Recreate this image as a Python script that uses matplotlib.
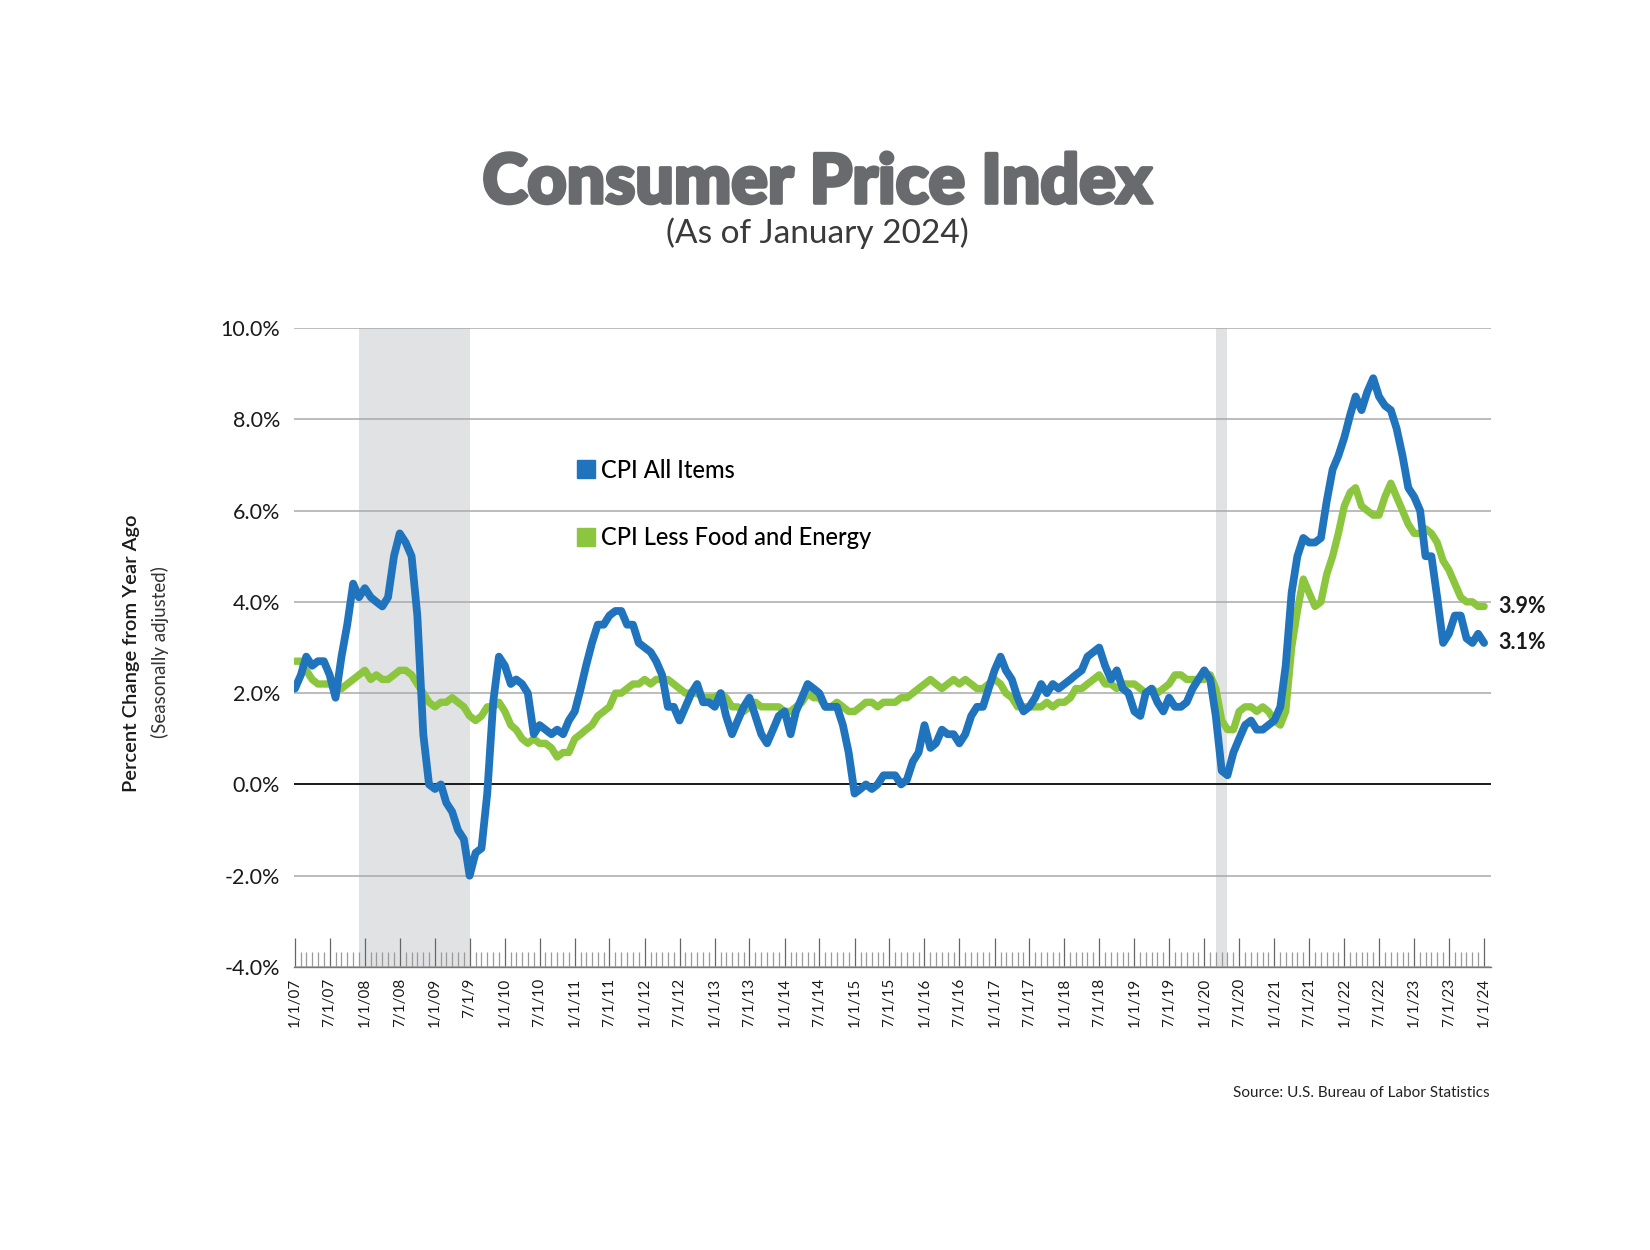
import matplotlib
matplotlib.use("Agg")
import matplotlib.pyplot as plt
from matplotlib.lines import Line2D
import matplotlib.patheffects as pe
import pandas as pd

# ---------------- data ----------------
start_month = "2007-01-01"
end_month = "2024-01-01"

cpi_all_items = [
    2.1, 2.4, 2.8, 2.6, 2.7, 2.7, 2.4, 1.9, 2.8, 3.5, 4.4, 4.1,    # 2007
    4.3, 4.1, 4.0, 3.9, 4.1, 5.0, 5.5, 5.3, 5.0, 3.7, 1.1, 0.0,    # 2008
    -0.1, 0.0, -0.4, -0.6, -1.0, -1.2, -2.0, -1.5, -1.4, -0.2, 1.8, 2.8,  # 2009
    2.6, 2.2, 2.3, 2.2, 2.0, 1.1, 1.3, 1.2, 1.1, 1.2, 1.1, 1.4,    # 2010
    1.6, 2.1, 2.6, 3.1, 3.5, 3.5, 3.7, 3.8, 3.8, 3.5, 3.5, 3.1,    # 2011
    3.0, 2.9, 2.7, 2.4, 1.7, 1.7, 1.4, 1.7, 2.0, 2.2, 1.8, 1.8,    # 2012
    1.7, 2.0, 1.5, 1.1, 1.4, 1.7, 1.9, 1.5, 1.1, 0.9, 1.2, 1.5,    # 2013
    1.6, 1.1, 1.6, 1.9, 2.2, 2.1, 2.0, 1.7, 1.7, 1.7, 1.3, 0.7,    # 2014
    -0.2, -0.1, 0.0, -0.1, 0.0, 0.2, 0.2, 0.2, 0.0, 0.1, 0.5, 0.7,  # 2015
    1.3, 0.8, 0.9, 1.2, 1.1, 1.1, 0.9, 1.1, 1.5, 1.7, 1.7, 2.1,    # 2016
    2.5, 2.8, 2.5, 2.3, 1.9, 1.6, 1.7, 1.9, 2.2, 2.0, 2.2, 2.1,    # 2017
    2.2, 2.3, 2.4, 2.5, 2.8, 2.9, 3.0, 2.6, 2.3, 2.5, 2.1, 2.0,    # 2018
    1.6, 1.5, 2.0, 2.1, 1.8, 1.6, 1.9, 1.7, 1.7, 1.8, 2.1, 2.3,    # 2019
    2.5, 2.3, 1.5, 0.3, 0.2, 0.7, 1.0, 1.3, 1.4, 1.2, 1.2, 1.3,    # 2020
    1.4, 1.7, 2.6, 4.2, 5.0, 5.4, 5.3, 5.3, 5.4, 6.2, 6.9, 7.2,    # 2021
    7.6, 8.1, 8.5, 8.2, 8.6, 8.9, 8.5, 8.3, 8.2, 7.8, 7.2, 6.5,    # 2022
    6.3, 6.0, 5.0, 5.0, 4.1, 3.1, 3.3, 3.7, 3.7, 3.2, 3.1, 3.3,    # 2023
    3.1,                                                          # 2024
]

cpi_core = [
    2.7, 2.7, 2.5, 2.3, 2.2, 2.2, 2.2, 2.1, 2.1, 2.2, 2.3, 2.4,    # 2007
    2.5, 2.3, 2.4, 2.3, 2.3, 2.4, 2.5, 2.5, 2.4, 2.2, 2.0, 1.8,    # 2008
    1.7, 1.8, 1.8, 1.9, 1.8, 1.7, 1.5, 1.4, 1.5, 1.7, 1.7, 1.8,    # 2009
    1.6, 1.3, 1.2, 1.0, 0.9, 1.0, 0.9, 0.9, 0.8, 0.6, 0.7, 0.7,    # 2010
    1.0, 1.1, 1.2, 1.3, 1.5, 1.6, 1.7, 2.0, 2.0, 2.1, 2.2, 2.2,    # 2011
    2.3, 2.2, 2.3, 2.3, 2.3, 2.2, 2.1, 2.0, 2.0, 2.0, 1.9, 1.9,    # 2012
    1.9, 2.0, 1.9, 1.7, 1.7, 1.6, 1.7, 1.8, 1.7, 1.7, 1.7, 1.7,    # 2013
    1.6, 1.6, 1.7, 1.8, 2.0, 1.9, 1.9, 1.7, 1.7, 1.8, 1.7, 1.6,    # 2014
    1.6, 1.7, 1.8, 1.8, 1.7, 1.8, 1.8, 1.8, 1.9, 1.9, 2.0, 2.1,    # 2015
    2.2, 2.3, 2.2, 2.1, 2.2, 2.3, 2.2, 2.3, 2.2, 2.1, 2.1, 2.2,    # 2016
    2.3, 2.2, 2.0, 1.9, 1.7, 1.7, 1.7, 1.7, 1.7, 1.8, 1.7, 1.8,    # 2017
    1.8, 1.9, 2.1, 2.1, 2.2, 2.3, 2.4, 2.2, 2.2, 2.1, 2.2, 2.2,    # 2018
    2.2, 2.1, 2.0, 2.1, 2.0, 2.1, 2.2, 2.4, 2.4, 2.3, 2.3, 2.3,    # 2019
    2.3, 2.4, 2.1, 1.4, 1.2, 1.2, 1.6, 1.7, 1.7, 1.6, 1.7, 1.6,    # 2020
    1.4, 1.3, 1.6, 3.0, 3.8, 4.5, 4.2, 3.9, 4.0, 4.6, 5.0, 5.5,    # 2021
    6.1, 6.4, 6.5, 6.1, 6.0, 5.9, 5.9, 6.3, 6.6, 6.3, 6.0, 5.7,    # 2022
    5.5, 5.5, 5.6, 5.5, 5.3, 4.9, 4.7, 4.4, 4.1, 4.0, 4.0, 3.9,    # 2023
    3.9,                                                          # 2024
]

series_labels = ["CPI All Items", "CPI Less Food and Energy"]

recessions = [("2007-12-01", "2009-07-01"), ("2020-03-01", "2020-05-01")]

x_tick_labels = [
    "1/1/07", "7/1/07", "1/1/08", "7/1/08", "1/1/09", "7/1/9", "1/1/10", "7/1/10",
    "1/1/11", "7/1/11", "1/1/12", "7/1/12", "1/1/13", "7/1/13", "1/1/14", "7/1/14",
    "1/1/15", "7/1/15", "1/1/16", "7/1/16", "1/1/17", "7/1/17", "1/1/18", "7/1/18",
    "1/1/19", "7/1/19", "1/1/20", "7/1/20", "1/1/21", "7/1/21", "1/1/22", "7/1/22",
    "1/1/23", "7/1/23", "1/1/24",
]

y_ticks = [-4, -2, 0, 2, 4, 6, 8, 10]

# ---------------- style ----------------
BLUE = "#1f74bd"
GREEN = "#8cc63f"
SHADE = "#e1e2e4"
FONT = ["Lato", "DejaVu Sans"]
plt.rcParams["font.family"] = FONT

dates = pd.date_range(start_month, end_month, freq="MS")
major_dates = pd.date_range(start_month, end_month, freq="6MS")

W, H = 1650, 1250
fig = plt.figure(figsize=(W / 100, H / 100), dpi=100)
ax = fig.add_axes([294 / W, 1 - 967 / H, (1491 - 294) / W, (967 - 328) / H])

for a, b in recessions:
    ax.axvspan(pd.Timestamp(a), pd.Timestamp(b), color=SHADE, zorder=0.2, lw=0)

ax.set_axisbelow(True)
ax.grid(axis="y", color="#a9a9a9", lw=1.1)
ax.axhline(0, color="black", lw=1.2, zorder=1)

ax.plot(dates, cpi_core, color=GREEN, lw=5.3, solid_capstyle="round",
        solid_joinstyle="round", zorder=3)
ax.plot(dates, cpi_all_items, color=BLUE, lw=5.6, solid_capstyle="round",
        solid_joinstyle="round", zorder=4)

ax.set_ylim(-4, 10)
ax.set_xlim(pd.Timestamp("2006-12-27"), pd.Timestamp("2024-02-06"))

ax.set_yticks(y_ticks)
ax.set_yticklabels([f"{v:.1f}%" for v in y_ticks])
ax.tick_params(axis="y", length=0, pad=10, labelsize=15.5, labelcolor="#1a1a1a")

ax.set_xticks(major_dates)
ax.set_xticklabels(x_tick_labels, rotation=90, ha="center", va="top")
ax.set_xticks(dates, minor=True)
ax.tick_params(axis="x", which="major", direction="in", length=21, width=0.9,
               color="#666666", pad=8, labelsize=11, labelcolor="#1a1a1a")
ax.tick_params(axis="x", which="minor", direction="in", length=11, width=0.9,
               color="#9a9a9a")

for s in ["top", "left", "right"]:
    ax.spines[s].set_visible(False)
ax.spines["bottom"].set_color("#777777")
ax.spines["bottom"].set_linewidth(1.0)

# legend
handles = [Line2D([], [], marker="s", ls="none", color=BLUE, markersize=12.5),
           Line2D([], [], marker="s", ls="none", color=GREEN, markersize=12.5)]
leg = ax.legend(handles, series_labels, loc="upper left",
                bbox_to_anchor=(0.219, 0.829), frameon=False,
                handlelength=0.7, handletextpad=0.3, labelspacing=1.9,
                prop={"family": FONT, "size": 17, "weight": "medium"})

# end labels
ax.annotate(f"{cpi_core[-1]:.1f}%", xy=(dates[-1], cpi_core[-1]), xytext=(10, 0),
            textcoords="offset points", ha="left", va="center", fontsize=15.5,
            fontweight="bold", color="#1a1a1a", annotation_clip=False)
ax.annotate(f"{cpi_all_items[-1]:.1f}%", xy=(dates[-1], cpi_all_items[-1]), xytext=(10, 0),
            textcoords="offset points", ha="left", va="center", fontsize=15.5,
            fontweight="bold", color="#1a1a1a", annotation_clip=False)

# titles
title_color = "#696a6d"
fig.text(817 / W, 1 - 203 / H, "Consumer Price Index", ha="center", va="baseline",
         fontsize=49, fontweight="black", color=title_color,
         path_effects=[pe.withStroke(linewidth=2.6, foreground=title_color)])
fig.text(817 / W, 1 - 243 / H, "(As of January 2024)", ha="center", va="baseline",
         fontsize=24, fontweight="normal", color="#3a3a3a")

# y labels
fig.text(131 / W, 1 - 653 / H, "Percent Change from Year Ago", rotation=90,
         ha="center", va="center", fontsize=14.5, fontweight="semibold", color="#1a1a1a")
fig.text(160 / W, 1 - 652 / H, "(Seasonally adjusted)", rotation=90,
         ha="center", va="center", fontsize=13.5, fontweight="normal", color="#333333")

# source
fig.text(1490 / W, 1 - 1097 / H, "Source: U.S. Bureau of Labor Statistics",
         ha="right", va="baseline", fontsize=11, color="#222222")

fig.savefig("out.png", dpi=100, facecolor="white")
